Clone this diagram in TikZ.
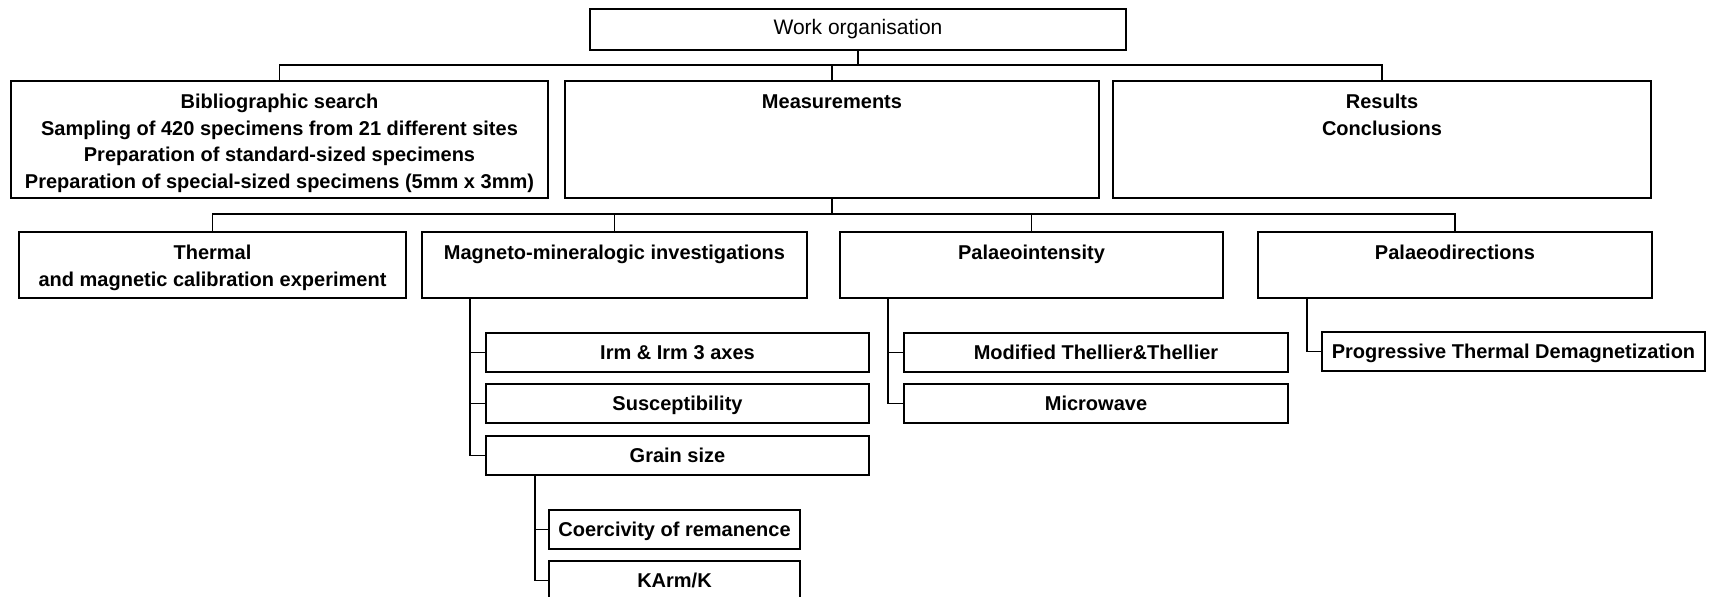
\documentclass[tikz,border=0pt]{standalone}
\usepackage{fontspec}
\setmainfont{Liberation Sans}
\usetikzlibrary{positioning}

\begin{document}
\begin{tikzpicture}[x=1pt,y=1pt,line width=1.6pt,
  box/.style={draw=black,inner sep=0pt,outer sep=0pt,align=center,
    font=\fontsize{20}{26.5}\selectfont\bfseries},
  tall/.style={box,minimum height=117pt},
  mid/.style={box,minimum height=66pt},
  small/.style={box,minimum height=39pt,text height=14.5pt,text depth=0pt},
  lbl/.style={anchor=north,yshift=-12.5pt,inner sep=0pt,align=center,
    font=\fontsize{20}{26.5}\selectfont\bfseries}]
\useasboundingbox (0,0) rectangle (1711,-597);
% top level
\node[box,font=\fontsize{21}{25}\selectfont,minimum width=536pt,minimum height=41pt] (work) at (858,-29.5) {Work organisation};
\node[tall,minimum width=537pt,label={[lbl]north:Bibliographic search\\Sampling of 420 specimens from 21 different sites\\Preparation of standard-sized specimens\\Preparation of special-sized specimens (5mm x 3mm)}] (biblio) at (279.5,-139.5) {};
\node[tall,minimum width=534pt,right=17pt of biblio,label={[lbl]north:Measurements}] (meas) {};
\node[tall,minimum width=538pt,right=14pt of meas,label={[lbl]north:Results\\Conclusions}] (results) {};
% measurements
\node[mid,minimum width=387pt,label={[lbl]north:Thermal\\and magnetic calibration experiment}] (thermal) at (212.5,-265) {};
\node[mid,minimum width=385pt,right=16pt of thermal,label={[lbl]north:Magneto-mineralogic investigations}] (magneto) {};
\node[mid,minimum width=383pt,right=33pt of magneto,label={[lbl]north:Palaeointensity}] (pintens) {};
\node[mid,minimum width=394pt,right=35pt of pintens,label={[lbl]north:Palaeodirections}] (pdirect) {};
% sub boxes
\node[small,minimum width=383pt,below right=35pt and 64pt of magneto.south west] (irm) {Irm \& Irm 3 axes};
\node[small,minimum width=383pt,below=12pt of irm] (suscept) {Susceptibility};
\node[small,minimum width=383pt,below=13pt of suscept] (grain) {Grain size};
\node[small,minimum width=251pt,below right=35pt and 63pt of grain.south west] (coerc) {Coercivity of remanence};
\node[small,minimum width=251pt,below=12pt of coerc] (karm) {KArm/K};
\node[small,minimum width=384pt,below right=35pt and 64pt of pintens.south west] (thellier) {Modified Thellier\&Thellier};
\node[small,minimum width=384pt,below=12pt of thellier] (microwave) {Microwave};
\node[small,minimum width=383pt,below right=34pt and 64pt of pdirect.south west] (progress) {Progressive Thermal Demagnetization};
% connectors
\coordinate (bus1) at ([yshift=16pt]biblio.north);
\draw (biblio.north) -- (bus1) -| (results.north);
\draw (work.south) -- (work.south |- bus1);
\draw (meas.north) -- (meas.north |- bus1);
\coordinate (bus2) at ([yshift=-16pt]meas.south);
\draw (thermal.north) |- (bus2) -| (pdirect.north);
\draw (meas.south) -- (bus2);
\foreach \n in {magneto,pintens} \draw (\n.north) -- (\n.north |- bus2);
\coordinate (mtrunk) at ([xshift=48pt]magneto.south west);
\foreach \n in {irm,suscept,grain} \draw (mtrunk) |- (\n.west);
\coordinate (gtrunk) at ([xshift=49pt]grain.south west);
\foreach \n in {coerc,karm} \draw (gtrunk) |- (\n.west);
\coordinate (ptrunk) at ([xshift=48pt]pintens.south west);
\foreach \n in {thellier,microwave} \draw (ptrunk) |- (\n.west);
\coordinate (dtrunk) at ([xshift=49pt]pdirect.south west);
\draw (dtrunk) |- (progress.west);
\end{tikzpicture}
\end{document}
